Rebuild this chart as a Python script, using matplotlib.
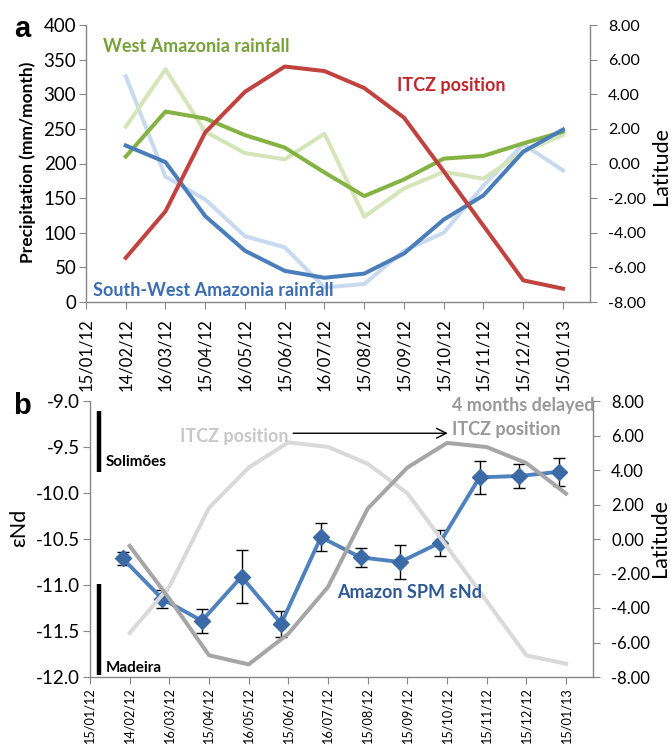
import matplotlib
matplotlib.use('Agg')
import matplotlib.pyplot as plt
import numpy as np

plt.rcParams['font.family'] = ['Lato', 'DejaVu Sans']
plt.rcParams['axes.unicode_minus'] = False

# ---------------- data ----------------
date_labels = ['15/01/12', '14/02/12', '16/03/12', '15/04/12', '16/05/12', '15/06/12',
               '16/07/12', '15/08/12', '15/09/12', '15/10/12', '15/11/12', '15/12/12',
               '15/01/13']
months = np.arange(1, 13)          # monthly data at 14/02/12 ... 15/01/13

sw_rain = [226, 202, 124, 74, 45, 35, 41, 70, 119, 154, 217, 249]
sw_rain_light = [326, 181, 148, 95, 79, 21, 26, 74, 100, 168, 228, 190]
west_rain = [210, 275, 265, 241, 223, 187, 153, 177, 207, 211, 229, 246]
west_rain_light = [253, 336, 246, 215, 206, 243, 123, 164, 188, 178, 217, 241]
itcz_lat = [-5.45, -2.76, 1.8, 4.14, 5.6, 5.34, 4.36, 2.65, -0.45, -3.6, -6.75, -7.23]
itcz_delayed = [-0.4, -3.46, -6.74, -7.27, -5.49, -2.78, 1.76, 4.14, 5.57, 5.33, 4.4, 2.63]

spm_days_before = 0.18             # sampling a few days before tick dates
spm_end = [-10.71, -11.15, -11.39, -10.91, -11.42, -10.48, -10.70, -10.75, -10.54,
           -9.83, -9.815, -9.77]
spm_err = [0.07, 0.095, 0.13, 0.29, 0.14, 0.155, 0.10, 0.18, 0.14, 0.18, 0.135, 0.155]

solimoes_range = [-9.11, -9.77]
madeira_range = [-10.99, -11.98]

# ---------------- styling ----------------
W, H = 671, 753
fig = plt.figure(figsize=(W / 100, H / 100), dpi=100)

def rect(l, t, r, b):
    return [l / W, 1 - b / H, (r - l) / W, (b - t) / H]

def ftext(x, y, s, **kw):
    fig.text(x / W, 1 - y / H, s, **kw)

SPINE = '#868686'

def style_axes(ax, axr, xlabsize, xpad, lsize, rsize):
    for a in (ax, axr):
        a.spines['top'].set_visible(False)
        for s in ('left', 'right', 'bottom'):
            a.spines[s].set_color(SPINE)
            a.spines[s].set_linewidth(1.0)
    ax.spines['right'].set_visible(False)
    axr.spines['left'].set_visible(False)
    axr.spines['bottom'].set_visible(False)
    ax.set_xlim(0, 12.68)
    ax.set_xticks(np.arange(13))
    ax.set_xticklabels(date_labels, rotation=90, fontsize=xlabsize)
    ax.tick_params(axis='x', length=5, color=SPINE, pad=xpad)
    ax.tick_params(axis='y', length=5, color=SPINE, pad=2, labelsize=lsize)
    axr.tick_params(axis='y', length=5, color=SPINE, pad=8, labelsize=rsize)
    axr.set_ylim(-8, 8)
    axr.set_yticks(np.arange(-8, 9, 2))
    axr.set_yticklabels(['%.2f' % v for v in np.arange(-8, 9, 2)])

# ---------------- panel a ----------------
ax1 = fig.add_axes(rect(86, 25, 590, 302))
ax1r = ax1.twinx()
style_axes(ax1, ax1r, 12, 7, 13.5, 11.5)
ax1.set_ylim(0, 400)
ax1.set_yticks(np.arange(0, 401, 50))

LW = 2.9
ax1.plot(months, sw_rain_light, color='#c9daf0', lw=LW)
ax1.plot(months, west_rain_light, color='#d5e5b9', lw=LW)
ax1.plot(months, west_rain, color='#84b243', lw=LW)
ax1.plot(months, sw_rain, color='#4a7ebb', lw=LW)
ax1r.plot(months, itcz_lat, color='#c0433f', lw=LW)

ftext(28, 162, 'Precipitation (mm/month)', fontsize=12.5, fontweight='bold',
      rotation=90, ha='center', va='center')
ftext(661, 166, 'Latitude', fontsize=15.5, rotation=90, ha='center', va='center')

ftext(14, 29, 'a', fontsize=21, fontweight='bold', family='Liberation Sans', va='center')
ftext(103, 47, 'West Amazonia rainfall', fontsize=13, fontweight='bold', color='#77a23a', va='center')
ftext(397, 86, 'ITCZ position', fontsize=13, fontweight='bold', color='#c0272d', va='center')
ftext(93, 290, 'South-West Amazonia rainfall', fontsize=13, fontweight='bold', color='#3b6db3', va='center')

# ---------------- panel b ----------------
ax2 = fig.add_axes(rect(90, 401, 593, 677))
ax2r = ax2.twinx()
style_axes(ax2, ax2r, 9.2, 3, 13.5, 12)
ax2.set_ylim(-12, -9)
ax2.set_yticks(np.arange(-12, -8.99, 0.5))
ax2.set_yticklabels(['%.1f' % v for v in np.arange(-12, -8.99, 0.5)])

ax2.errorbar(months - spm_days_before, spm_end, yerr=spm_err, color='#4f81bd', lw=2.8,
             marker='D', markersize=8, markerfacecolor='#3b6aa6', markeredgecolor='#3b6aa6',
             ecolor='black', elinewidth=1.0, capsize=4, capthick=1.0)

ax2r.plot(months, itcz_lat, color='#d9d9d9', lw=LW)
ax2r.plot(months, itcz_delayed, color='#a6a6a6', lw=LW)

ax2.plot([0.23, 0.23], solimoes_range, color='black', lw=3.2, solid_capstyle='butt')
ax2.plot([0.23, 0.23], madeira_range, color='black', lw=3.2, solid_capstyle='butt')

ax2r.annotate('', xy=(9.02, 6.13), xytext=(5.12, 6.13),
              arrowprops=dict(arrowstyle='->,head_length=0.7,head_width=0.35', color='black', lw=1.0,
                              shrinkA=0, shrinkB=0))

ftext(19, 528, 'εNd', fontsize=15.5, rotation=90, ha='center', va='center')
ftext(660, 538, 'Latitude', fontsize=15.5, rotation=90, ha='center', va='center')

ftext(13, 406, 'b', fontsize=21, fontweight='bold', family='Liberation Sans', va='center')
ftext(180, 436, 'ITCZ position', fontsize=13, fontweight='bold', color='#c8c8c8', va='center')
ftext(452, 405, '4 months delayed', fontsize=13, fontweight='bold', color='#999999', va='center')
ftext(452, 429, 'ITCZ position', fontsize=13, fontweight='bold', color='#999999', va='center')
ftext(337, 592, 'Amazon SPM εNd', fontsize=13, fontweight='bold', color='#2e5a94', va='center')
ftext(106, 462, 'Solimões', fontsize=11, fontweight='bold', color='black', va='center')
ftext(106, 668, 'Madeira', fontsize=11, fontweight='bold', color='black', va='center')

fig.savefig('out.png', dpi=100)
